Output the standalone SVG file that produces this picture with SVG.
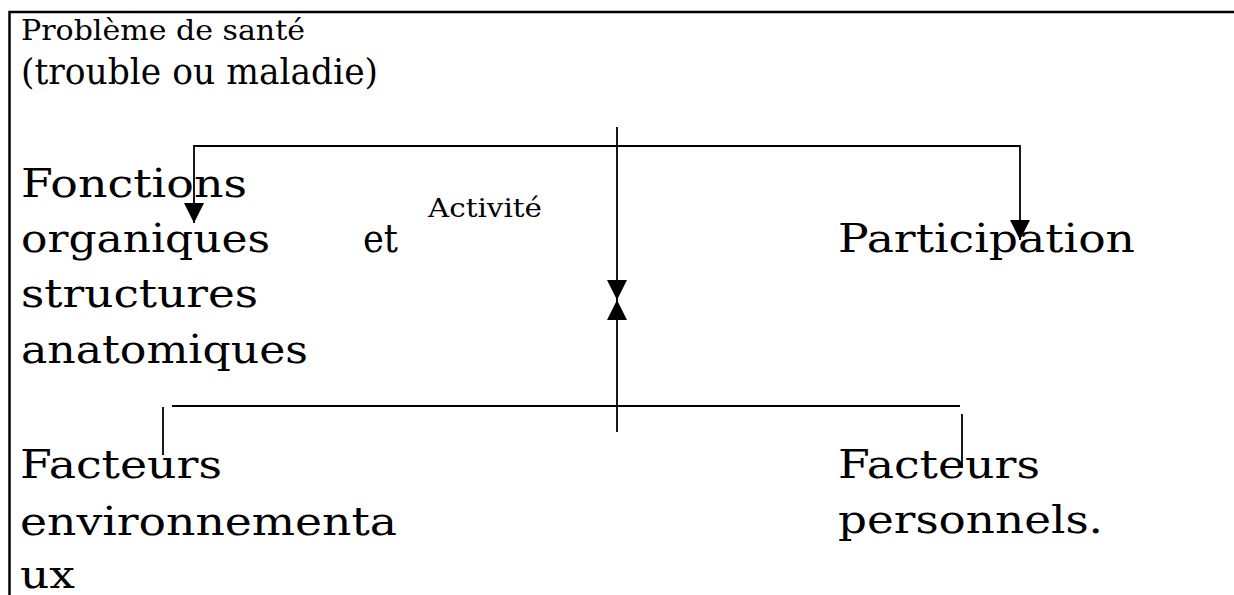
<svg xmlns="http://www.w3.org/2000/svg" width="1234" height="595" viewBox="0 0 1234 595">
  <style>
    text { font-family: "DejaVu Serif", "Liberation Serif", serif; fill: #000; }
    text.t1 { font-size: 28px; }
    text.t2 { font-size: 35px; }
    text.big { font-size: 40px; }
    text.small { font-size: 26px; }
    .frame { fill: none; stroke: #000; stroke-width: 2.5; }
    .link { fill: none; stroke: #000; stroke-width: 1.8; }
  </style>
  <defs>
    <marker id="head" viewBox="0 0 20 20" refX="20" refY="10" markerWidth="20" markerHeight="20" markerUnits="userSpaceOnUse" orient="auto-start-reverse">
      <path d="M0,0 L20,10 L0,20 Z" fill="#000"/>
    </marker>
  </defs>
  <rect width="1234" height="595" fill="#fff"/>

  <!-- outer frame: only top and left edges visible -->
  <path class="frame" d="M9.5,600 V12 H1240"/>

  <g id="probleme">
    <text class="t1" x="21" y="40" textLength="284" lengthAdjust="spacingAndGlyphs">Problème de santé</text>
    <text class="t2" x="21" y="84" textLength="357" lengthAdjust="spacingAndGlyphs">(trouble ou maladie)</text>
  </g>

  <g id="fonctions">
    <text class="big" x="21" y="197" textLength="226" lengthAdjust="spacingAndGlyphs">Fonctions</text>
    <text class="big" x="21" y="252" textLength="249" lengthAdjust="spacingAndGlyphs">organiques</text>
    <text class="big" x="363" y="252" textLength="35" lengthAdjust="spacingAndGlyphs">et</text>
    <text class="big" x="21" y="307" textLength="237" lengthAdjust="spacingAndGlyphs">structures</text>
    <text class="big" x="21" y="363" textLength="287" lengthAdjust="spacingAndGlyphs">anatomiques</text>
  </g>

  <g id="activite">
    <text class="small" x="428" y="217" textLength="114" lengthAdjust="spacingAndGlyphs">Activité</text>
  </g>

  <g id="participation">
    <text class="big" x="838" y="252" textLength="297" lengthAdjust="spacingAndGlyphs">Participation</text>
  </g>

  <g id="facteurs-env">
    <text class="big" x="20" y="478" textLength="202" lengthAdjust="spacingAndGlyphs">Facteurs</text>
    <text class="big" x="20" y="535" textLength="377" lengthAdjust="spacingAndGlyphs">environnementa</text>
    <text class="big" x="20" y="588" textLength="55" lengthAdjust="spacingAndGlyphs">ux</text>
  </g>

  <g id="facteurs-perso">
    <text class="big" x="838" y="478" textLength="202" lengthAdjust="spacingAndGlyphs">Facteurs</text>
    <text class="big" x="838" y="533" textLength="265" lengthAdjust="spacingAndGlyphs">personnels.</text>
  </g>

  <g id="connectors">
    <!-- upper branch to body functions and participation -->
    <path class="link" d="M194,223 V146 H1020 V240" marker-start="url(#head)" marker-end="url(#head)"/>
    <!-- central axis with facing arrowheads -->
    <line class="link" x1="617" y1="127" x2="617" y2="300" marker-end="url(#head)"/>
    <line class="link" x1="617" y1="432" x2="617" y2="300" marker-end="url(#head)"/>
    <!-- lower branch to contextual factors -->
    <line class="link" x1="172" y1="406" x2="960" y2="406"/>
    <line class="link" x1="163" y1="407" x2="163" y2="455"/>
    <line class="link" x1="962" y1="414" x2="962" y2="467"/>
  </g>
</svg>
